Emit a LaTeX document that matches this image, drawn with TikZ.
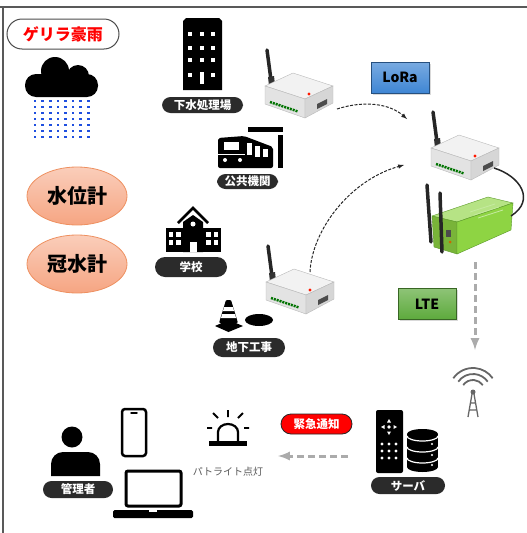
\documentclass[tikz,border=0pt]{standalone}
\usepackage{fontspec}
\setmainfont{Noto Sans CJK JP}
\usetikzlibrary{shapes.geometric,shadows}

\definecolor{tagdark}{HTML}{2B2B2B}
\definecolor{rainblue}{HTML}{1F4FE0}
\definecolor{lorablue}{HTML}{3F86D4}
\definecolor{ltegreen}{HTML}{5DAA3C}
\definecolor{meterfill}{HTML}{F6A582}
\definecolor{meterline}{HTML}{EE9060}
\definecolor{routergreen}{HTML}{8ED443}
\definecolor{routeredge}{HTML}{5C9A2A}
\definecolor{arrowgray}{HTML}{ABABAB}

% LoRa gateway box with its antenna
\tikzset{
  gateway/.pic={
    \draw[line width=3.5pt, line cap=round, black!85] (0,0) -- (4,30);
    \fill[black!80] (1,27) -- (7,26) -- (8,35) -- (2,36) -- cycle;
    \filldraw[draw=gray!55, fill=gray!10] (-2,36) -- (26,23) -- (66,36) -- (38,49) -- cycle;
    \filldraw[draw=gray!55, fill=gray!22] (-2,36) -- (38,49) -- (38,68) -- (-2,54) -- cycle;
    \filldraw[draw=gray!55, fill=gray!32] (38,49) -- (66,36) -- (66,53) -- (38,68) -- cycle;
    \draw[green!45!black, line width=2.5pt, dash pattern=on 2pt off 1pt] (3,52) -- (31,61.5);
    \fill[red!80!orange] (42,44) circle (1.6);
    \fill[gray!60!black] (50,54) -- (60,49) -- (60,54) -- (50,59) -- cycle;
  }
}

\begin{document}
\begin{tikzpicture}[x=1pt, y=-1pt,
    tag/.style={fill=tagdark, text=white, rounded corners=8.5pt, inner sep=0pt,
      minimum width=72pt, minimum height=17pt, font=\fontsize{11.5}{12}\selectfont\bfseries},
    meter/.style={ellipse, draw=meterline, line width=0.8pt, top color=meterfill!55!white,
      bottom color=meterfill, minimum width=100pt, minimum height=58pt,
      font=\fontsize{20}{22}\selectfont\bfseries},
    radio/.style={minimum width=58pt, minimum height=31pt, inner sep=0pt,
      font=\fontsize{14}{15}\selectfont\bfseries,
      drop shadow={opacity=0.3, shadow xshift=1.5pt, shadow yshift=-1.5pt}},
    flow/.style={black!85, line width=1pt, dash pattern=on 3pt off 1.5pt, -latex},
    push/.style={arrowgray, line width=3pt, dash pattern=on 7pt off 4pt, -latex}]
  \useasboundingbox (0,0) rectangle (527,533);

  % frame
  \draw[black!65, line width=1.5pt] (0,7) -- (527,7);
  \draw[black!65, line width=1.5pt] (3,7) -- (3,533);

  \node[draw=black!70, line width=1pt, fill=white, rounded corners=15pt, minimum width=112pt,
    minimum height=30pt, text=red, font=\fontsize{16}{17}\selectfont\bfseries] (rain) at (63,34) {ゲリラ豪雨};

  % cloud and rain
  \fill[rounded corners=11pt] (25,74) rectangle (98,97);
  \fill (55,71) circle (14);
  \fill (78,76) circle (11);
  \foreach \i in {0,...,7}
    \foreach \j in {0,...,6}
      \fill[rainblue] ({33.7+7.6*\i},{99.7+6*\j}) rectangle +(2.6,2.6);

  \node[meter] (level) at (77,196) {水位計};
  \node[meter] (flood) at (77,264) {冠水計};

  % sewage plant
  \fill (183,90) -- (183,21) -- (186,18) -- (219,18) -- (222,21) -- (222,90) -- cycle;
  \foreach \wx in {188,200,211}
    \foreach \wy in {32,46,58}
      \fill[white] (\wx,\wy) rectangle +(4,4);
  \fill[white] (188,73) rectangle +(4,4);
  \fill[white] (211,73) rectangle +(4,4);
  \fill[white] (200,72) rectangle (204,84);
  \node[tag, minimum width=81pt, minimum height=16pt] (sewage) at (202.5,105) {下水処理場};

  % public office
  \fill (248,127) rectangle (283,132);
  \fill (278,135) rectangle (283,168);
  \fill[rounded corners=2pt] (218,168) -- (218,138) -- (244,136) -- (273,147) -- (273,168) -- cycle;
  \fill[white] (224,142) rectangle (239,150);
  \fill[white] (247,143) rectangle (252,155);
  \fill[white] (255,146) rectangle (260,157);
  \fill[white] (263,149) rectangle (268,157);
  \draw[white, line width=1pt] (218,154) -- (245,154);
  \fill[white] (225,160) circle (2);
  \fill[white] (240,160) circle (2);
  \node[tag, minimum width=61pt, minimum height=15pt] (office) at (247.5,181.5) {公共機関};

  % school
  \fill (166,228) rectangle (221,252);
  \fill (183,222) -- (193,215) -- (203,222) -- (203,252) -- (183,252) -- cycle;
  \draw[line width=2.5pt] (178,223) -- (193,208) -- (208,223);
  \foreach \wx in {168.5,176, 206,213.5}
    \foreach \wy in {232,240}
      \fill[white] (\wx,\wy) rectangle +(4.5,4.5);
  \fill[white] (193,224) circle (2.5);
  \fill[white] (189.5,242) rectangle (196.5,252);
  \node[tag, minimum height=20pt, rounded corners=10pt] (school) at (191,267) {学校};

  % road works
  \fill[rounded corners=1pt] (226,300) -- (231,300) -- (238,323) -- (219,323) -- cycle;
  \fill[white] (224,307) -- (233,307) -- (234,311) -- (223,311) -- cycle;
  \fill[white] (222,314) -- (235,314) -- (236,318) -- (221,318) -- cycle;
  \fill (215,326) -- (228.5,320) -- (243,326) -- (228.5,332) -- cycle;
  \fill (259,320) ellipse [x radius=14, y radius=6];
  \node[tag, minimum height=19pt, rounded corners=9.5pt] (works) at (249,347.5) {地下工事};

  % gateways
  \pic at (267,50) {gateway};
  \pic at (268,246) {gateway};
  \pic at (433,112) {gateway};
  \coordinate (gwone) at (337,109);
  \coordinate (gwthree) at (310,272);
  \coordinate (hubtop) at (407,119);
  \coordinate (hubside) at (404,165);
  \draw[flow] (gwone) .. controls (365,100) and (390,104) .. (hubtop);
  \draw[flow] (gwthree) .. controls (312,230) and (350,180) .. (hubside);

  \node[radio, draw=lorablue!60!black, top color=lorablue!70!white, bottom color=lorablue] (lora) at (400,77.5) {LoRa};

  % LTE router
  \filldraw[draw=routeredge, fill=routergreen!65!white] (432,216) -- (488,197) -- (513,203) -- (457,222) -- cycle;
  \filldraw[draw=routeredge, fill=routergreen!85!black] (432,216) -- (457,222) -- (457,254) -- (434,247) -- cycle;
  \filldraw[draw=routeredge, fill=routergreen] (457,222) -- (513,203) -- (511,230) -- (457,254) -- cycle;
  \draw[routergreen!50!white, line width=0.8pt] (470,212) -- (495,204) (474,215) -- (499,207) (478,218) -- (503,210);
  \fill[black!70] (446,230) rectangle (451,237);
  \fill[orange!80!black] (450,242) circle (1.5);
  \draw[line width=3.5pt, line cap=round, black!85] (427,185) -- (431,242);
  \draw[line width=3.5pt, line cap=round, black!85] (440,193) -- (442,252);
  \coordinate (hubport) at (494,168);
  \coordinate (routerport) at (511,216);
  \draw[line width=1.5pt, black!85] (hubport) .. controls (520,176) and (536,200) .. (routerport);

  \node[radio, draw=ltegreen!60!black, top color=ltegreen!70!white, bottom color=ltegreen] (lte) at (427,304) {LTE};

  \coordinate (uplink) at (475,262);
  \coordinate (tower) at (475,350);
  \draw[push] (uplink) -- (tower);

  % base station
  \foreach \r in {12,18,24}
    \draw[black!60, line width=1.8pt] ([shift={(215:\r)}]473,392) arc [start angle=215, end angle=325, radius=\r];
  \fill[black!60] (473,392) circle (2.5);
  \draw[black!60, line width=1.3pt] (472,394) -- (468,417) (474,394) -- (478,417)
    (470,403) -- (476,403) (469,410) -- (477,410);

  % server
  \fill[rounded corners=2pt] (376,410) rectangle (403,473);
  \fill[white] (389,427) circle (1.8);
  \fill[white] (389,419) -- (387,422.5) -- (391,422.5) -- cycle;
  \fill[white] (389,435) -- (387,431.5) -- (391,431.5) -- cycle;
  \fill[white] (381,427) -- (384.5,425) -- (384.5,429) -- cycle;
  \fill[white] (397,427) -- (393.5,425) -- (393.5,429) -- cycle;
  \foreach \cx in {382,389,396}
    \foreach \cy in {444,451,458}
      \fill[white] (\cx,\cy) circle (1.7);
  \fill (422.5,467) ellipse [x radius=15.5, y radius=5];
  \fill (407,434) rectangle (438,467);
  \fill (422.5,434) ellipse [x radius=15.5, y radius=5];
  \foreach \yy in {436,447,458}
    \draw[white, line width=1.2pt] (407,\yy) arc [start angle=180, end angle=0, x radius=15.5, y radius=5];
  \foreach \yy in {444,455,465}
    \fill[white] (432,\yy) circle (1.2);
  \node[tag, minimum width=74pt] (server) at (408,485.5) {サーバ};

  \node[fill=red, draw=black!85, line width=0.8pt, text=white, rounded corners=10pt, inner sep=0pt,
    minimum width=71pt, minimum height=20pt, font=\fontsize{11.5}{12}\selectfont\bfseries] (notice) at (316.5,424) {緊急通知};
  \coordinate (serverout) at (348,456);
  \coordinate (lampin) at (278,456);
  \draw[push] (serverout) -- (lampin);

  % patrol lamp
  \draw[line width=2.2pt] (218,441) -- (218,432) arc [start angle=180, end angle=360, x radius=10, y radius=8] -- (238,441);
  \fill (209,441) rectangle (247,446);
  \draw[line width=1.8pt] (228,410) -- (228,417) (213,413) -- (218,418) (243,413) -- (238,418)
    (207,428) -- (212,428) (244,428) -- (249,428);
  \node[text=black!65, font=\fontsize{10}{11}\selectfont] (lamp) at (228,472) {パトライト点灯};

  % administrator and devices
  \fill (72,437) circle (10.5);
  \fill (51,476) -- (51,464) arc [start angle=180, end angle=270, radius=12] -- (88,452)
    arc [start angle=270, end angle=360, radius=12] -- (100,476) -- cycle;
  \node[tag, minimum width=70pt] (admin) at (78,489.5) {管理者};
  \draw[line width=2.5pt, rounded corners=3pt] (122,409) rectangle (146,456);
  \draw[line width=1.5pt, line cap=round] (131,413) -- (137,413);
  \draw[line width=3pt, rounded corners=2pt] (126,471) rectangle (181,506);
  \fill[rounded corners=1.5pt] (113,510) rectangle (193,518);
  \fill[white] (149,510) rectangle (157,512);
\end{tikzpicture}
\end{document}
